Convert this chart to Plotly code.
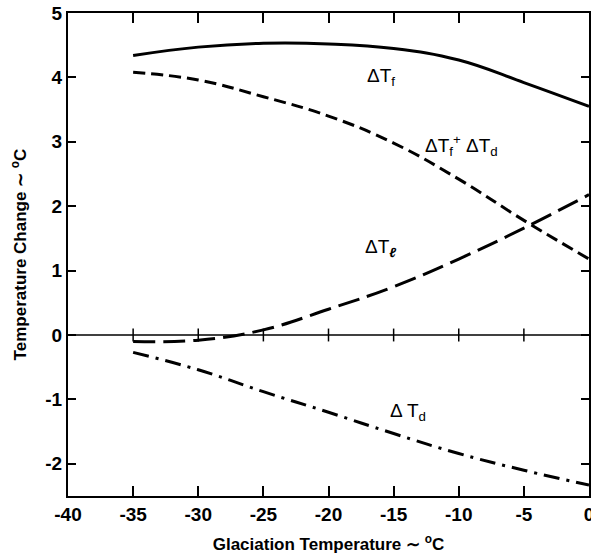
import plotly.graph_objects as go

glac_temp = [-35, -30, -25, -20, -15, -10, -5, 0]
dT_f = [4.34, 4.47, 4.53, 4.52, 4.45, 4.27, 3.92, 3.55]
dT_f_plus_d = [4.08, 3.96, 3.70, 3.40, 2.98, 2.42, 1.78, 1.18]
dT_l = [-0.10, -0.08, 0.08, 0.40, 0.75, 1.18, 1.66, 2.18]
dT_d = [-0.27, -0.54, -0.88, -1.20, -1.53, -1.84, -2.10, -2.33]

x_ticks = [-40, -35, -30, -25, -20, -15, -10, -5, 0]
x_tick_labels = ["-40", "-35", "-30", "-25", "-20", "-15", "-10", "-5", "0"]
y_ticks = [-2, -1, 0, 1, 2, 3, 4, 5]
y_tick_labels = ["-2", "-1", "0", "1", "2", "3", "4", "5"]

FONT = "Liberation Sans, Arial, sans-serif"

fig = go.Figure()
line_common = dict(color="black", shape="spline", smoothing=1.2)
fig.add_trace(go.Scatter(x=glac_temp, y=dT_f, mode="lines",
                         line=dict(width=3, **line_common)))
fig.add_trace(go.Scatter(x=glac_temp, y=dT_f_plus_d, mode="lines",
                         line=dict(width=3, dash="12px,6px", **line_common)))
fig.add_trace(go.Scatter(x=glac_temp, y=dT_l, mode="lines",
                         line=dict(width=3, dash="22px,8px", **line_common)))
fig.add_trace(go.Scatter(x=glac_temp, y=dT_d, mode="lines",
                         line=dict(width=3, dash="16px,7px,3px,7px", **line_common)))

# zero line with crossing ticks
fig.add_shape(type="line", x0=-40, x1=0, y0=0, y1=0, xref="x", yref="y",
              line=dict(color="black", width=1.5))
for xt in x_ticks[1:-1]:
    fig.add_shape(type="line", x0=xt, x1=xt, y0=-0.1, y1=0.1, xref="x", yref="y",
                  line=dict(color="black", width=1.5))

ann_font = dict(family=FONT, size=19, color="black")
fig.add_annotation(x=-16.0, y=4.0, text="ΔT<sub>f</sub>", showarrow=False, font=ann_font)
fig.add_annotation(x=-9.8, y=2.95, text="ΔT<sub>f</sub><sup>+</sup> ΔT<sub>d</sub>",
                   showarrow=False, font=ann_font)
fig.add_annotation(x=-16.0, y=1.35, text="ΔT<sub><i><b>ℓ</b></i></sub>", showarrow=False, font=ann_font)
fig.add_annotation(x=-13.9, y=-1.2, text="Δ T<sub>d</sub>", showarrow=False, font=ann_font)

axis_common = dict(showgrid=False, zeroline=False, showline=True, linecolor="black",
                   linewidth=2, mirror="ticks", ticks="inside", tickcolor="black",
                   tickwidth=1.5, automargin=False, ticklabeloverflow="allow",
                   tickfont=dict(family=FONT, size=19, color="black", weight="bold"))

fig.update_xaxes(range=[-40, 0], tickvals=x_ticks, ticktext=x_tick_labels, ticklen=10,
                 title=dict(text="Glaciation Temperature ∼ <sup>o</sup>C",
                            font=dict(family=FONT, size=17, color="black", weight="bold"),
                            standoff=14),
                 **axis_common)
fig.update_yaxes(range=[-2.5, 5], tickvals=y_ticks, ticktext=y_tick_labels, ticklen=8,
                 title=dict(text="Temperature Change ∼ <sup>o</sup>C",
                            font=dict(family=FONT, size=17, color="black", weight="bold"),
                            standoff=14),
                 **axis_common)

fig.update_layout(width=591, height=560, showlegend=False,
                  plot_bgcolor="white", paper_bgcolor="white",
                  margin=dict(l=68, r=2, t=13, b=64))

fig.write_html("out.html",
               config={"displayModeBar": False},
               post_script="document.body.style.margin='0';"
                           "document.body.style.overflow='hidden';"
                           "document.documentElement.style.overflow='hidden';")
